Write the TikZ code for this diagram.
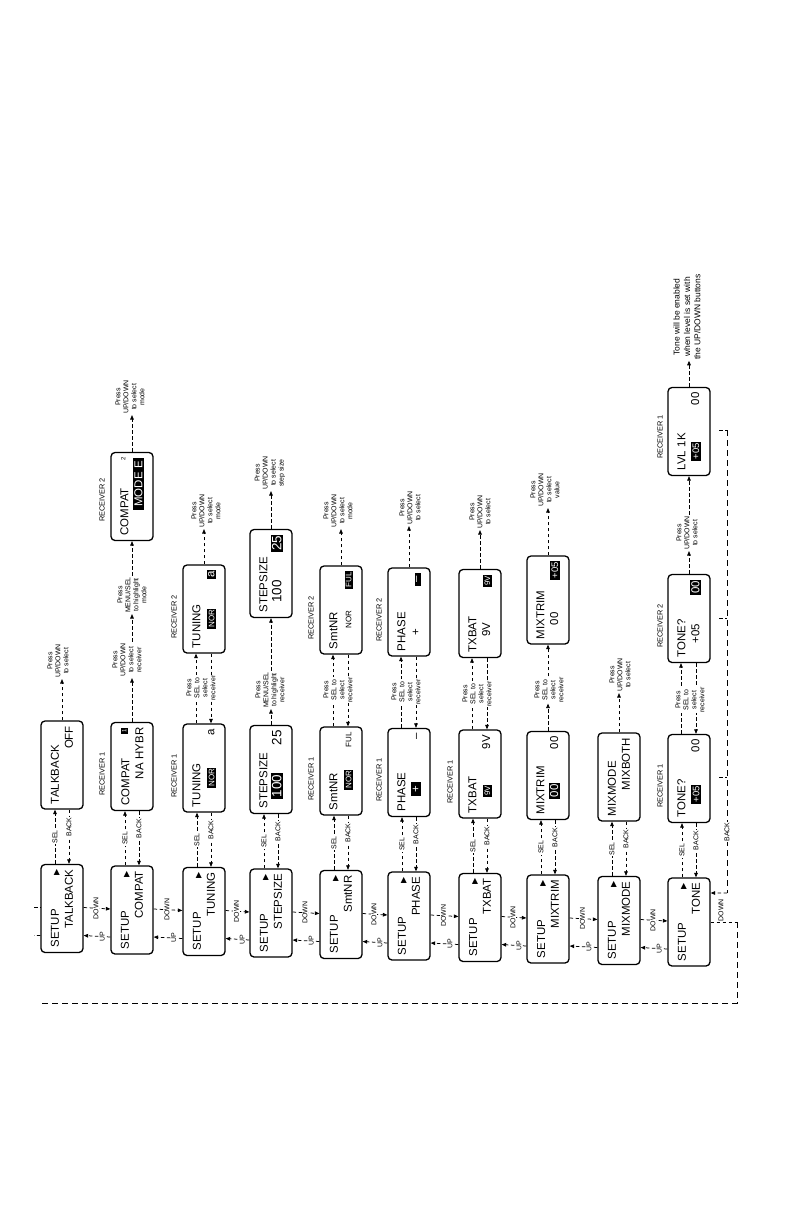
\documentclass[tikz,border=0pt]{standalone}
\usepackage{fontspec}
\setmainfont{Liberation Sans}
\newfontfamily\dejavu{DejaVu Sans}
\usetikzlibrary{arrows.meta}
\newcommand\bxf{\fontsize{11.5}{14}\selectfont}
\newcommand\smf{\fontsize{7}{8}\selectfont}
\newcommand\tnf{\fontsize{8.5}{10.5}\selectfont}
\newcommand\rcf{\fontsize{7.4}{8}\selectfont}
\newcommand\tri{{\dejavu\fontsize{8}{8}\selectfont ▶}\hspace*{3bp}}
\newcommand\hl[1]{{\setlength\fboxsep{1.3bp}\colorbox{black}{\textcolor{white}{#1}}}}
\newcommand\hls[1]{{\fontsize{8}{9}\selectfont\hl{#1}}}
\newcommand\hlm[1]{{\fontsize{9.5}{10}\selectfont\hl{#1}}}
\newcommand\lgf{\fontsize{13.5}{14}\selectfont}
\tikzset{
  box/.style={draw, line width=1.3bp, rounded corners=4bp, rotate=90,
    minimum width=88bp, minimum height=42bp, text width=78bp, align=left,
    inner xsep=5bp, inner ysep=0bp, font=\bxf},
  sbox/.style={box, minimum width=87bp},
  note/.style={rotate=90, align=center, font=\smf, inner sep=1bp},
  wnote/.style={note, fill=white},
  lab/.style={rotate=90, font=\smf, fill=white, inner sep=0.8bp},
  rcv/.style={rotate=90, font=\rcf, inner sep=0bp},
  dl/.style={dash pattern=on 3.5bp off 2.5bp, line width=0.75bp},
  da/.style={dl, -{Triangle[length=4.5bp,width=3.6bp]}},
  longdash/.style={dash pattern=on 6bp off 4bp, line width=0.75bp}
}
\begin{document}
\begin{tikzpicture}[x=1bp,y=-1bp]
\useasboundingbox (0,0) rectangle (792,1224);
\fill[white] (0,0) rectangle (792,1224);

% ---- SETUP boxes
\node[sbox] (s0) at (62,908.5) {SETUP\hfill\tri\\\hspace*{\fill}TALKBACK\hspace*{2bp}};
\node[sbox] (s1) at (132,910) {SETUP\hfill\tri\\\hspace*{\fill}COMPAT\hspace*{2bp}};
\node[sbox] (s2) at (204,911.5) {SETUP\hfill\tri\\\hspace*{\fill}TUNING\hspace*{2bp}};
\node[sbox] (s3) at (271,913) {SETUP\hfill\tri\\\hspace*{\fill}STEPSIZE\hspace*{2bp}};
\node[sbox] (s4) at (341,914.5) {SETUP\hfill\tri\\\hspace*{\fill}SmtNR\hspace*{2bp}};
\node[sbox] (s5) at (409,916) {SETUP\hfill\tri\\\hspace*{\fill}PHASE\hspace*{2bp}};
\node[sbox] (s6) at (480,917.5) {SETUP\hfill\tri\\\hspace*{\fill}TXBAT\hspace*{2bp}};
\node[sbox] (s7) at (548,919) {SETUP\hfill\tri\\\hspace*{\fill}MIXTRIM\hspace*{2bp}};
\node[sbox] (s8) at (619,920.5) {SETUP\hfill\tri\\\hspace*{\fill}MIXMODE\hspace*{2bp}};
\node[sbox] (s9) at (689,922) {SETUP\hfill\tri\\\hspace*{\fill}TONE\hspace*{6bp}};

% ---- receiver 1 / first level boxes
\node[box] (m0) at (62,765) {TALKBACK\\\hspace*{\fill}OFF\hspace*{6bp}};
\node[box] (m1) at (132,766.5) {COMPAT\hfill\raisebox{3bp}{\fontsize{6}{6}\selectfont\setlength\fboxsep{1.8bp}\colorbox{black}{\textcolor{white}{1}}}\hspace*{3bp}\\\hspace*{\fill}NA HYBR\hspace*{1bp}};
\node[box] (m2) at (204,768) {TUNING\\\hspace*{19bp}\hls{NOR}\hfill a\hspace*{17bp}};
\node[box] (m3) at (271,769.5) {STEPSIZE\\\hspace*{10bp}{\lgf\hl{100}}\hfill{\lgf 25}\hspace*{7bp}};
\node[box] (m4) at (341,771) {SmtNR\\\hspace*{20bp}\hls{NOR}\hfill{\fontsize{8}{9}\selectfont FUL}\hspace*{9bp}};
\node[box] (m5) at (409,772.5) {PHASE\\\hspace*{16bp}\hl{\,+\,}\hfill --\hspace*{13bp}};
\node[box] (m6) at (480,774) {TXBAT\\\hspace*{16bp}\hls{9V}\hfill 9V\hspace*{10bp}};
\node[box] (m7) at (548,775.5) {MIXTRIM\\\hspace*{16bp}\hl{00}\hfill 00\hspace*{8bp}};
\node[box] (m8) at (619,777) {MIXMODE\\\hspace*{\fill}MIXBOTH\hspace*{2bp}};
\node[box] (m9) at (689,778.5) {TONE?\\\hspace*{14bp}\hlm{+05}\hfill 00\hspace*{10bp}};

% ---- receiver 2 / second level boxes
\node[box] (n1) at (132,496.5) {COMPAT\hfill\raisebox{3bp}{\fontsize{6}{6}\selectfont 2}\hspace*{6bp}\\\hspace*{\fill}\hl{\,MODE E\,}};
\node[box] (n2) at (204,609) {TUNING\\\hspace*{19bp}\hls{NOR}\hfill\hl{a}\hspace*{5bp}};
\node[box] (n3) at (271,573.5) {STEPSIZE\\\hspace*{10bp}{\lgf 100}\hfill{\lgf\hl{25}}\hspace*{3bp}};
\node[box] (n4) at (341,610) {SmtNR\\\hspace*{21bp}{\fontsize{8}{9}\selectfont NOR}\hfill\hls{FUL}\hspace*{6bp}};
\node[box] (n5) at (409,612) {PHASE\\\hspace*{16bp}+\hfill\hl{\,--\,}\hspace*{8bp}};
\node[box] (n6) at (480,613.5) {TXBAT\\\hspace*{16bp}9V\hfill\hls{9V}\hspace*{7bp}};
\node[box] (n7) at (548,600) {MIXTRIM\\\hspace*{14bp}00\hfill\hlm{+05}\hspace*{2bp}};
\node[box] (n9) at (689,618.5) {TONE?\\\hspace*{14bp}+05\hfill\hl{00}\hspace*{6bp}};
\node[box] (l9) at (689,431.5) {LVL 1K\\\hspace*{10bp}\hlm{+05}\hfill 00\hspace*{8bp}};

% ---- receiver labels
\node[rcv] (r1a) at (102,774) {RECEIVER 1};
\node[rcv] (r1b) at (102,500) {RECEIVER 2};
\node[rcv] (r2a) at (174,776) {RECEIVER 1};
\node[rcv] (r2b) at (174,617) {RECEIVER 2};
\node[rcv] (r4a) at (311,779) {RECEIVER 1};
\node[rcv] (r4b) at (311,618) {RECEIVER 2};
\node[rcv] (r5a) at (379,780) {RECEIVER 1};
\node[rcv] (r5b) at (379,620) {RECEIVER 2};
\node[rcv] (r6a) at (450,782) {RECEIVER 1};
\node[rcv] (r9a) at (660,786) {RECEIVER 1};
\node[rcv] (r9b) at (660,626) {RECEIVER 2};
\node[rcv] (r9c) at (660,437) {RECEIVER 1};

% ---- SEL / BACK between setup and first level
\foreach \i in {0,...,9}{
  \draw[da] ([xshift=-7bp]s\i.east) -- node[lab,pos=0.5]{SEL} ([xshift=-7bp]m\i.west);
  \draw[da] ([xshift=7bp]m\i.west) -- node[lab,pos=0.32]{BACK} ([xshift=7bp]s\i.east);
}
% ---- DOWN / UP between setup boxes
\foreach \i/\j in {0/1,1/2,2/3,3/4,4/5,5/6,6/7,7/8,8/9}{
  \draw[da] ([yshift=1bp]s\i.south) -- node[lab,pos=0.46]{DOWN} ([yshift=1bp]s\j.north);
  \draw[da] ([yshift=-27bp]s\j.north) -- node[lab,pos=0.3]{UP} ([yshift=-27bp]s\i.south);
}

% ---- two-way SEL between receiver 1 and receiver 2
\foreach \i in {2,4,5,6,9}{
  \draw[da] ([xshift=-8bp]m\i.east) -- ([xshift=-8bp]n\i.west);
  \draw[da] ([xshift=7bp]n\i.west) -- ([xshift=7bp]m\i.east);
}

% ---- notes
\node[note] (t0) at (58,661) {Press\\UP/DOWN\\to select};
\node[note] (t1a) at (127,660) {Press\\UP/DOWN\\to select\\receiver};
\node[note] (t1b) at (132,595) {Press\\MENU/SEL\\to highlight\\mode};
\node[note] (t1c) at (130,397) {Press\\UP/DOWN\\to select\\mode};
\node[wnote] (t2a) at (201,688) {Press\\SEL to\\select\\receiver};
\node[note] (t2b) at (206,511) {Press\\UP/DOWN\\to select\\mode};
\node[note] (t3a) at (270,690) {Press\\MENU/SEL\\to highlight\\receiver};
\node[note] (t3b) at (270,473) {Press\\UP/DOWN\\to select\\step size};
\node[wnote] (t4a) at (338,690) {Press\\SEL to\\select\\receiver};
\node[note] (t4b) at (338,511) {Press\\UP/DOWN\\to select\\mode};
\node[wnote] (t5a) at (406,692) {Press\\SEL to\\select\\receiver};
\node[note] (t5b) at (410,508) {Press\\UP/DOWN\\to select};
\node[wnote] (t6a) at (477,694) {Press\\SEL to\\select\\receiver};
\node[note] (t6b) at (480,512) {Press\\UP/DOWN\\to select};
\node[note] (t7a) at (549,690) {Press\\SEL to\\select\\receiver};
\node[note] (t7b) at (545,490) {Press\\UP/DOWN\\to select\\value};
\node[note] (t8) at (620,675) {Press\\UP/DOWN\\to select};
\node[wnote] (t9a) at (690,700) {Press\\SEL to\\select\\receiver};
\node[note] (t9b) at (687,533) {Press\\UP/DOWN\\to select};
\node[note, font=\tnf] (t9c) at (687,317) {Tone will be enabled\\when level is set with\\the UP/DOWN buttons};

% ---- chain arrows
\draw[da] (m0.east) -- (m0.east |- t0.west);
\draw[da] (m1.east) -- (m1.east |- t1a.west);
\draw[da] (m1.east |- t1a.east) -- (m1.east |- t1b.west);
\draw[da] (n1.west |- t1b.east) -- (n1.west);
\draw[da] (n1.east) -- (n1.east |- t1c.west);
\draw[da] (n2.east) -- (n2.east |- t2b.west);
\draw[da] (m3.east) -- (m3.east |- t3a.west);
\draw[da] (n3.west |- t3a.east) -- (n3.west);
\draw[da] (n3.east) -- (n3.east |- t3b.west);
\draw[da] (n4.east) -- (n4.east |- t4b.west);
\draw[da] (n5.east) -- (n5.east |- t5b.west);
\draw[da] (n6.east) -- (n6.east |- t6b.west);
\draw[da] (m7.east) -- (m7.east |- t7a.west);
\draw[da] (n7.west |- t7a.east) -- (n7.west);
\draw[da] (n7.east) -- (n7.east |- t7b.west);
\draw[da] (m8.east) -- (m8.east |- t8.west);
\draw[da] (n9.east) -- (n9.east |- t9b.west);
\draw[da] (l9.west |- t9b.east) -- (l9.west);
\draw[da] (l9.east) -- (l9.east |- t9c.west);

% ---- return paths
\coordinate (dr1) at (737,922);
\coordinate (dr2) at (737,1003);
\coordinate (dr3) at (38,1003);
\draw[dl] (s9.south) -- (dr1);
\node[lab] (dn9) at (721,910) {DOWN};
\draw[longdash] (dr1) -- (dr2) -- (dr3);
\coordinate (dl1) at (34,907.5);
\coordinate (dl2) at (34,935.5);
\draw[dl] (dl1) -- ([yshift=1bp]s0.north);
\draw[dl] ([yshift=-27bp]s0.north) -- (dl2);

\coordinate (bk1) at (727,430);
\coordinate (bk2) at (727,893);
\draw[longdash] (bk1) -- (bk2);
\draw[da] (bk2) -- ([yshift=29bp]s9.south);
\node[lab] (bkl) at (727,832) {BACK};
\coordinate (tk1) at (719,430);
\coordinate (tk2) at (719,618);
\coordinate (tk3) at (719,777);
\draw[dl] (tk1) -- (bk1);
\draw[dl] (tk2) -- (727,618);
\draw[dl] (tk3) -- (727,777);
\end{tikzpicture}
\end{document}
